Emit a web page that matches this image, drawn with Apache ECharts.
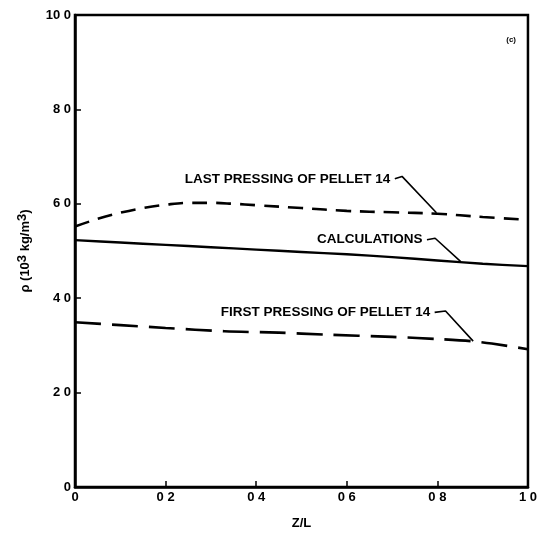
<!DOCTYPE html>
<html>
<head>
<meta charset="utf-8">
<script src="https://cdn.jsdelivr.net/npm/echarts@6/dist/echarts.min.js"></script>
<style>html,body{margin:0;padding:0;background:#fff;}#c{width:540px;height:535px;}</style>
</head>
<body>
<div id="c"></div>
<script>
// ---- data ----
var xTicks = [0, 0.2, 0.4, 0.6, 0.8, 1.0];
var xTickLabels = ['0', '0 2', '0 4', '0 6', '0 8', '1 0'];
var yTicks = [0, 2, 4, 6, 8, 10];
var yTickLabels = ['0', '2 0', '4 0', '6 0', '8 0', '10 0'];

var lastX = [0, 0.05, 0.1, 0.15, 0.2, 0.25, 0.3, 0.35, 0.4, 0.5, 0.6, 0.7, 0.8, 0.9, 1.0];
var lastY = [5.52, 5.68, 5.81, 5.91, 5.98, 6.02, 6.02, 6.0, 5.97, 5.91, 5.85, 5.82, 5.79, 5.72, 5.66];

var calcX = [0, 0.1, 0.2, 0.3, 0.4, 0.5, 0.6, 0.7, 0.8, 0.9, 1.0];
var calcY = [5.23, 5.18, 5.13, 5.08, 5.03, 4.98, 4.93, 4.87, 4.80, 4.73, 4.68];

var firstX = [0, 0.1, 0.2, 0.33, 0.45, 0.55, 0.7, 0.81, 0.875, 0.92, 1.0];
var firstY = [3.49, 3.43, 3.37, 3.30, 3.27, 3.23, 3.18, 3.13, 3.09, 3.04, 2.92];

var annotTexts = ['LAST PRESSING OF PELLET 14', 'CALCULATIONS', 'FIRST PRESSING OF PELLET 14'];
var annotLeaderX = [[0.706, 0.722, 0.798], [0.777, 0.795, 0.851], [0.794, 0.818, 0.879]];
var annotLeaderY = [[6.53, 6.58, 5.81], [5.24, 5.27, 4.78], [3.70, 3.73, 3.09]];

var panelLabel = '(c)';

function zip(xs, ys) { return xs.map(function (x, i) { return [x, ys[i]]; }); }

var font = '"Liberation Sans", Arial, sans-serif';

var series = [
  { type: 'line', data: zip(lastX, lastY), smooth: 0.4, symbol: 'none',
    lineStyle: { color: '#000', width: 2.6, type: [15, 9] }, z: 3 },
  { type: 'line', data: zip(calcX, calcY), smooth: 0.3, symbol: 'none',
    lineStyle: { color: '#000', width: 2.4, type: 'solid' }, z: 3 },
  { type: 'line', data: zip(firstX, firstY), smooth: 0.3, symbol: 'none',
    lineStyle: { color: '#000', width: 2.6, type: [26, 11] }, z: 3 }
];

var labelPts = [];
annotTexts.forEach(function (t, k) {
  series.push({ type: 'line', data: zip(annotLeaderX[k], annotLeaderY[k]), symbol: 'none', silent: true,
    lineStyle: { color: '#000', width: 1.6 }, z: 4 });
  labelPts.push({ value: [annotLeaderX[k][0], annotLeaderY[k][0]], name: t });
});
series.push({
  type: 'scatter', data: labelPts, symbolSize: 1, itemStyle: { color: 'rgba(0,0,0,0)', opacity: 1 }, silent: true, z: 5,
  label: { show: true, position: 'left', distance: 4, formatter: '{b}',
    color: '#000', fontFamily: font, fontWeight: 'bold', fontSize: 13.5 }
});

var chart = echarts.init(document.getElementById('c'), null, { renderer: 'canvas' });
chart.setOption({
  animation: false,
  backgroundColor: '#fff',
  grid: { left: 75, right: 10, top: 15, bottom: 47, show: true,
          borderColor: '#000', borderWidth: 2.5, backgroundColor: 'transparent' },
  xAxis: {
    type: 'value', min: 0, max: 1.0, interval: 0.2,
    name: 'Z/L', nameLocation: 'middle', nameGap: 30,
    nameTextStyle: { color: '#000', fontFamily: font, fontWeight: 'bold', fontSize: 13 },
    axisLine: { show: true, lineStyle: { color: '#000', width: 2.5 } },
    axisTick: { show: true, inside: true, length: 6, lineStyle: { color: '#000', width: 1.5 } },
    splitLine: { show: false },
    axisLabel: { color: '#000', fontFamily: font, fontWeight: 'bold', fontSize: 13, margin: 4,
      formatter: function (v) {
        var i = xTicks.findIndex(function (t) { return Math.abs(t - v) < 1e-6; });
        return i >= 0 ? xTickLabels[i] : '';
      } }
  },
  yAxis: {
    type: 'value', min: 0, max: 10, interval: 2,
    name: 'ρ (10{s|3} kg/m{s|3})', nameLocation: 'middle', nameGap: 40, nameRotate: 90,
    nameTextStyle: { color: '#000', fontFamily: font, fontWeight: 'bold', fontSize: 13,
      rich: { s: { fontSize: 13, fontWeight: 'bold', fontFamily: font, verticalAlign: 'top', padding: [0, 0, 6, 0] } } },
    axisLine: { show: true, lineStyle: { color: '#000', width: 2.5 } },
    axisTick: { show: true, inside: true, length: 6, lineStyle: { color: '#000', width: 1.5 } },
    splitLine: { show: false },
    axisLabel: { color: '#000', fontFamily: font, fontWeight: 'bold', fontSize: 13, margin: 4,
      formatter: function (v) {
        var i = yTicks.findIndex(function (t) { return Math.abs(t - v) < 1e-6; });
        return i >= 0 ? yTickLabels[i] : '';
      } }
  },
  graphic: [{ type: 'text', right: 24, top: 36,
    style: { text: panelLabel, fill: '#000', font: 'bold 8px ' + font } }],
  series: series
});
</script>
</body>
</html>
